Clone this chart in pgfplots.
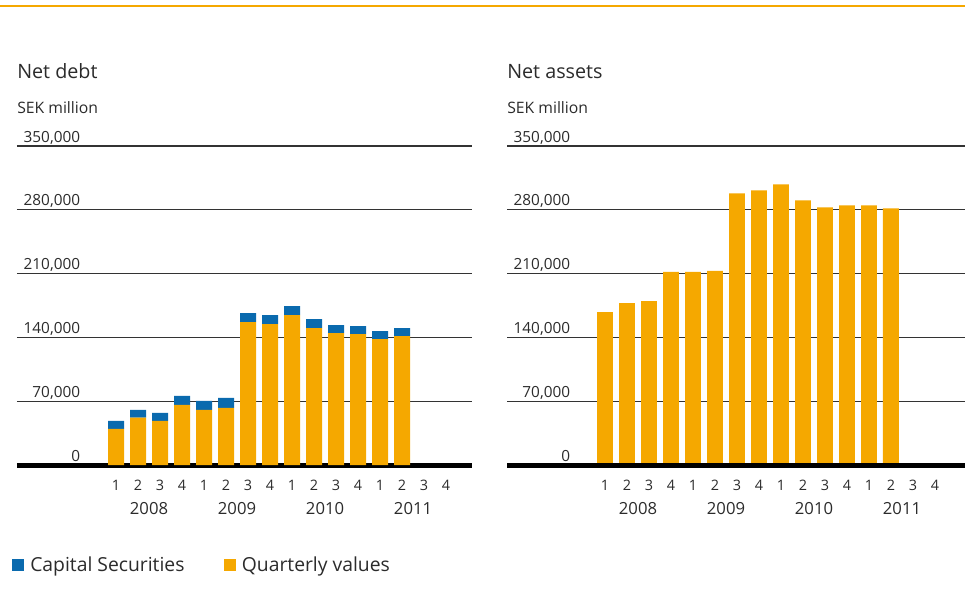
\documentclass[border=0pt]{standalone}
\usepackage{pgfplots}
\pgfplotsset{compat=1.18}
\usepackage{fontspec}
\setmainfont{Open Sans}
\definecolor{cOrange}{HTML}{F5A800}
\definecolor{cBlue}{HTML}{0A6AAE}
\definecolor{cText}{HTML}{2B2B2B}

% left panel: quarterly values and capital securities on top
\pgfplotstableread{
q   base    cap
0   39700   8700
1   52100   8400
2   48500   8700
3   66000   9800
4   60500   9800
5   62700   10900
6   156800  9800
7   154600  9800
8   164400  9800
9   150200  9800
10  144700  8700
11  143600  8700
12  138200  8700
13  141500  8700
}\debttable

\pgfplotstableread{
q   val
0   167700
1   177600
2   179700
3   211800
4   211800
5   212900
6   298100
7   301400
8   308000
9   290300
10  282600
11  284800
12  284800
13  281500
}\assettable

\pgfplotsset{
  panel/.style={
    scale only axis,
    height=239.25pt,
    ymin=0, ymax=350000,
    ytick={0,70000,140000,210000,280000,350000},
    yticklabels={0,{70,000},{140,000},{210,000},{280,000},{350,000}},
    scaled y ticks=false,
    yticklabel style={anchor=base east, inner sep=0pt,
                      xshift=47.5pt, yshift=3pt,
                      font=\fontsize{11.5}{13}\selectfont, text=cText},
    xtick={0,...,15},
    xticklabels={1,2,3,4,1,2,3,4,1,2,3,4,1,2,3,4},
    xticklabel style={anchor=north, inner sep=0pt, yshift=-11pt,
                      font=\fontsize{10.8}{12}\selectfont, text=cText},
    extra x ticks={1.5,5.5,9.5,13.5},
    extra x tick labels={2008,2009,2010,2011},
    extra x tick style={xticklabel style={yshift=-17pt,
                      font=\fontsize{12.5}{14}\selectfont}},
    major tick length=0pt,
    axis line style={draw=none},
    ymajorgrids=true,
    grid style={black!80, line width=0.8pt},
    bar width=0.727,
    clip=false,
  },
}

\begin{document}
\begin{tikzpicture}
\useasboundingbox (0,0) rectangle (723.75pt,-445.5pt);
\draw[cOrange, line width=1.2pt] (0,-4.3pt) -- (723.75pt,-4.3pt);

\node[anchor=base west, inner sep=0pt, text=cText, font=\fontsize{14.8}{17}\selectfont]
  at (12.75pt,-58.5pt) {Net debt};
\node[anchor=base west, inner sep=0pt, text=cText, font=\fontsize{11.8}{13}\selectfont]
  at (12.75pt,-84.75pt) {SEK million};
\node[anchor=base west, inner sep=0pt, text=cText, font=\fontsize{14.8}{17}\selectfont]
  at (380.25pt,-58.5pt) {Net assets};
\node[anchor=base west, inner sep=0pt, text=cText, font=\fontsize{11.8}{13}\selectfont]
  at (380.25pt,-84.75pt) {SEK million};

\begin{axis}[
  panel,
  at={(12.75pt,-348.75pt)}, anchor=south west,
  width=341.25pt,
  xmin=-4.5, xmax=16.18,
  ybar stacked,
  reverse legend,
  legend columns=2,
  legend style={at={(axis description cs:-0.011,-0.3135)}, anchor=west,
                draw=none, fill=none, inner sep=0pt,
                font=\fontsize{14.5}{16}\selectfont, text=cText,
                nodes={inner xsep=4.5pt},
                /tikz/every even column/.append style={column sep=25pt}},
  legend cell align=left,
  legend image code/.code={\fill[#1] (0pt,-4.5pt) rectangle (9pt,4.5pt);},
]
\addplot[fill=cOrange, draw=none] table[x=q, y=base] {\debttable};
\addlegendentry{Quarterly values}
\addplot[fill=cBlue, draw=none] table[x=q, y=cap] {\debttable};
\addlegendentry{Capital Securities}
\draw[black, line width=3.75pt] (axis cs:-4.5,0) -- (axis cs:16.18,0);
\end{axis}

\begin{axis}[
  panel,
  at={(380.25pt,-348.75pt)}, anchor=south west,
  width=343.5pt,
  xmin=-4.4545, xmax=16.364,
  ybar, bar shift=0pt,
]
\addplot[fill=cOrange, draw=none] table[x=q, y=val] {\assettable};
\draw[black, line width=3.75pt] (axis cs:-4.4545,0) -- (axis cs:16.364,0);
\end{axis}
\end{tikzpicture}
\end{document}
